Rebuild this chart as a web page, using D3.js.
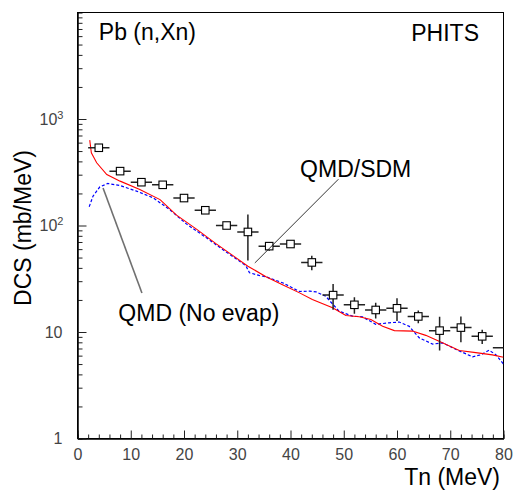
<!DOCTYPE html>
<html>
<head>
<meta charset="utf-8">
<script src="https://cdn.jsdelivr.net/npm/d3@7"></script>
<style>
  body { margin: 0; background: #fff; }
  text { font-family: "Liberation Sans", Arial, sans-serif; }
</style>
</head>
<body>
<svg id="chart"></svg>
<script>
// measured points (Tn bin centres, DCS in mb/MeV, linear y errors)
const exp_x = [4, 8, 12, 16, 20, 24, 28, 32, 36, 40, 44, 48, 52, 56, 60, 64, 68, 72, 76, 80];
const exp_y = [537, 324, 255, 241, 181, 139, 100, 87, 64, 67, 45, 22.2, 18.0, 16.1, 16.7, 14.0, 10.3, 11.0, 9.1, 7.1];
const exp_dy = [15, 10, 8, 8, 6, 5, 5, 40, 6, 4, 7, 6, 3.2, 2.7, 4, 1.9, 3.6, 3, 1.4, 0.5];
const exp_dx = 2;

// QMD/SDM (red solid)
const sdm_x = [2.3, 2.6, 3.6, 5.5, 8.0, 11.7, 15.5, 18.6, 22.4, 26, 29, 32, 35.4, 38.5, 41.7, 44.1, 47.9, 50.4, 52.9, 55.1, 57.3, 59.5, 62.9, 65.4, 67.9, 71.7, 74.8, 77.9, 80];
const sdm_y = [634, 481, 388, 301, 261, 218, 175, 125, 92, 67.6, 53, 41.5, 33, 27.8, 23.3, 20.2, 16.9, 14.3, 13.9, 13.1, 11.3, 10.3, 10.2, 9.3, 8.2, 6.7, 6.4, 6.1, 5.8];

// QMD no evaporation (blue dashed)
const qmd_x = [2.2, 2.9, 4.2, 5.7, 7.9, 11.1, 14.2, 17.3, 20.5, 24, 28, 30.5, 31.6, 32.3, 34.1, 35.4, 38.5, 41.7, 43.6, 44.8, 46.6, 49.1, 51.6, 53.5, 56, 58.5, 60.4, 62.3, 64.2, 66.7, 68.6, 71.1, 74.2, 75.7, 77.3, 78.6, 80];
const qmd_y = [150, 188, 231, 248, 238, 210, 182, 141, 103, 78, 56, 46, 42, 36, 34, 33, 29, 24, 24.2, 23.8, 21.7, 15.7, 14.1, 13.9, 11.8, 12.2, 12.4, 11.3, 8.8, 7.7, 7.9, 6.85, 5.85, 6.1, 6.75, 6.1, 5.0];

const x_ticks = [0, 10, 20, 30, 40, 50, 60, 70, 80];
const y_ticks = [1, 10, 100, 1000];

// texts placed in data units
const labels = [
    {text: 'Pb (n,Xn)', x: 4.0, y: 5520, anchor: 'start'},
    {text: 'PHITS', x: 75.4, y: 5400, anchor: 'end'},
    {text: 'QMD/SDM', x: 41.8, y: 285, anchor: 'start'},
    {text: 'QMD (No evap)', x: 7.67, y: 12.6, anchor: 'start'}
];
const pointers = [
    {x1: 49.0, y1: 272, x2: 33.3, y2: 44.5, color: '#000', width: 0.8},
    {x1: 4.8, y1: 225, x2: 12.1, y2: 23.2, color: '#707070', width: 1.6}
];

const width = 514, height = 492;
const margin = {top: 12.5, right: 10.5, bottom: 53.5, left: 77.5};
const inner_width = width - margin.left - margin.right;
const inner_height = height - margin.top - margin.bottom;

const svg = d3.select('#chart')
    .attr('width', width)
    .attr('height', height);

const chart = svg.append('g')
    .attr('transform', `translate(${margin.left}, ${margin.top})`);

const xscale = d3.scaleLinear().domain([0, 80]).range([0, inner_width]);
const yscale = d3.scaleLog().domain([1, 10000]).range([inner_height, 0]);

svg.append('defs').append('clipPath').attr('id', 'clip')
    .append('rect').attr('width', inner_width).attr('height', inner_height);

// frame
chart.append('rect')
    .attr('width', inner_width)
    .attr('height', inner_height)
    .attr('fill', 'none')
    .attr('stroke', '#000')
    .attr('stroke-width', 1);

// x axis: minor then major ticks, drawn inward
const x_minor = d3.range(0, 81, 2).filter(d => d % 10 !== 0);
const xaxis_minor = d3.axisBottom(xscale).tickValues(x_minor).tickSize(-4).tickFormat('');
const xaxis = d3.axisBottom(xscale).tickValues(x_ticks).tickSize(-8).tickPadding(10).tickSizeOuter(0);

const xg_minor = chart.append('g').attr('transform', `translate(0, ${inner_height})`).call(xaxis_minor);
const xg = chart.append('g').attr('transform', `translate(0, ${inner_height})`).call(xaxis);

// y axis
const y_minor = [];
[1, 10, 100, 1000].forEach(d => { for (let k = 2; k <= 9; k++) y_minor.push(d * k); });
const yaxis_minor = d3.axisLeft(yscale).tickValues(y_minor).tickSize(-5).tickFormat('');
const yaxis = d3.axisLeft(yscale).tickValues(y_ticks).tickSize(-9).tickPadding(14)
    .tickFormat(d => d >= 100 ? '10' : String(d)).tickSizeOuter(0);

const yg_minor = chart.append('g').call(yaxis_minor);
const yg = chart.append('g').call(yaxis);

[xg_minor, xg, yg_minor, yg].forEach(g => {
    g.select('.domain').attr('stroke', '#000');
    g.selectAll('.tick line').attr('stroke', '#222');
});

xg.selectAll('.tick text')
    .style('font-size', '16px')
    .attr('fill', '#444');

yg.selectAll('.tick text')
    .style('font-size', '16px')
    .attr('fill', '#444')
    .attr('x', -15)
    .each(function (d) {
        if (d >= 100) {
            d3.select(this).append('tspan')
                .attr('dy', '-0.55em')
                .style('font-size', '11px')
                .text(Math.round(Math.log10(d)));
        }
    });
yg.selectAll('.tick text').filter(d => d >= 100)
    .attr('text-anchor', 'start')
    .attr('x', -38);

// curves
const plot = chart.append('g').attr('clip-path', 'url(#clip)');

const line = d3.line()
    .x(d => xscale(d[0]))
    .y(d => yscale(d[1]));

plot.append('path')
    .attr('d', line(d3.zip(qmd_x, qmd_y)))
    .attr('fill', 'none')
    .attr('stroke', '#0000ff')
    .attr('stroke-width', 1.2)
    .attr('stroke-dasharray', '3,2');

plot.append('path')
    .attr('d', line(d3.zip(sdm_x, sdm_y)))
    .attr('fill', 'none')
    .attr('stroke', '#ff0000')
    .attr('stroke-width', 1.1);

// measured points with error bars
const points = exp_x.map((x, i) => ({x: x, y: exp_y[i], dy: exp_dy[i]}));

const bars = plot.append('g').attr('stroke', '#222').attr('stroke-width', 1.5);
bars.selectAll('.hbar')
    .data(points)
    .enter()
    .append('line')
    .attr('x1', d => xscale(d.x - exp_dx))
    .attr('x2', d => xscale(d.x + exp_dx))
    .attr('y1', d => yscale(d.y))
    .attr('y2', d => yscale(d.y));
bars.selectAll('.vbar')
    .data(points.filter(d => d.x < 80))
    .enter()
    .append('line')
    .attr('x1', d => xscale(d.x))
    .attr('x2', d => xscale(d.x))
    .attr('y1', d => yscale(d.y - d.dy))
    .attr('y2', d => yscale(d.y + d.dy));

const box = 7.5;
plot.selectAll('.marker')
    .data(points.filter(d => d.x < 80))
    .enter()
    .append('rect')
    .attr('x', d => xscale(d.x) - box / 2)
    .attr('y', d => yscale(d.y) - box / 2)
    .attr('width', box)
    .attr('height', box)
    .attr('fill', '#fff')
    .attr('stroke', '#000')
    .attr('stroke-width', 1.1);

// pointer lines and labels
chart.selectAll('.pointer')
    .data(pointers)
    .enter()
    .append('line')
    .attr('x1', d => xscale(d.x1))
    .attr('y1', d => yscale(d.y1))
    .attr('x2', d => xscale(d.x2))
    .attr('y2', d => yscale(d.y2))
    .attr('stroke', d => d.color)
    .attr('stroke-width', d => d.width);

chart.selectAll('.label')
    .data(labels)
    .enter()
    .append('text')
    .attr('x', d => xscale(d.x))
    .attr('y', d => yscale(d.y))
    .attr('text-anchor', d => d.anchor)
    .style('font-size', '23px')
    .attr('fill', '#000')
    .text(d => d.text);

// axis titles
svg.append('text')
    .attr('x', 500)
    .attr('y', 485)
    .attr('text-anchor', 'end')
    .style('font-size', '23px')
    .text('Tn (MeV)');

svg.append('text')
    .attr('transform', 'rotate(-90)')
    .attr('x', -228)
    .attr('y', 31)
    .attr('text-anchor', 'middle')
    .style('font-size', '23px')
    .text('DCS (mb/MeV)');
</script>
</body>
</html>
